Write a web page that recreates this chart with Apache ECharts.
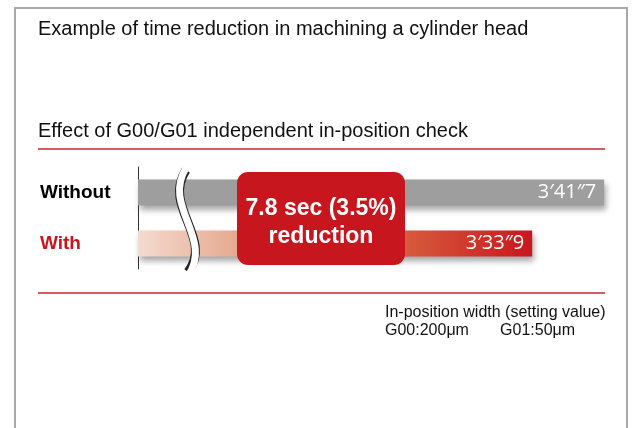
<!DOCTYPE html>
<html>
<head>
<meta charset="utf-8">
<script src="https://cdn.jsdelivr.net/npm/echarts@6/dist/echarts.min.js"></script>
<style>
  html, body { margin: 0; padding: 0; background: #fff; }
  #main { width: 636px; height: 428px; }
</style>
</head>
<body>
<div id="main"></div>
<script>
// data
var categories = ['Without', 'With'];
var timesSec = [221.7, 213.9];           // 3'41"7 and 3'33"9 in seconds
var timeLabels = ['3\u203241\u20337', '3\u203233\u20339'];
var axisMin = 171.2;                      // broken axis, starts well above zero
var axisMax = 222;

var FONT = '"Liberation Sans", Arial, Helvetica, sans-serif';
var RED = '#c8161e';

var diff = timesSec[0] - timesSec[1];
var pct = diff / timesSec[0] * 100;
var boxLine1 = diff.toFixed(1) + ' sec (' + pct.toFixed(1) + '%)';

var myChart = echarts.init(document.getElementById('main'));

var option = {
  animation: false,
  backgroundColor: '#fff',
  grid: { left: 138, top: 167, height: 102, right: 636 - 138 - (axisMax - axisMin) * (72 / 7.8) },
  xAxis: {
    type: 'value',
    min: axisMin,
    max: axisMax,
    show: false
  },
  yAxis: {
    type: 'category',
    data: categories,
    inverse: true,
    axisLine: { show: true, lineStyle: { color: '#333', width: 1 } },
    axisTick: { show: false },
    axisLabel: {
      align: 'left',
      margin: 98,
      fontFamily: FONT,
      fontSize: 19,
      fontWeight: 'bold',
      padding: [14, 0, 0, 0],
      color: function (v) { return v === 'With' ? RED : '#000'; }
    }
  },
  series: [{
    type: 'bar',
    barWidth: 26,
    data: [
      { value: timesSec[0], itemStyle: { color: '#9d9e9d' } },
      { value: timesSec[1], itemStyle: { color: new echarts.graphic.LinearGradient(0, 0, 1, 0, [
        { offset: 0, color: '#f4dbd0' },
        { offset: 0.25, color: '#e6a98f' },
        { offset: 0.68, color: '#d65b3c' },
        { offset: 1, color: '#c8161e' }
      ]) } }
    ],
    itemStyle: {
      shadowColor: 'rgba(0,0,0,0.35)',
      shadowBlur: 6,
      shadowOffsetX: 2,
      shadowOffsetY: 4
    },
    label: {
      show: true,
      position: 'insideRight',
      distance: 8,
      color: '#fff',
      fontFamily: '"Open Sans", sans-serif',
      fontSize: 20,
      formatter: function (p) { return timeLabels[p.dataIndex]; }
    }
  }],
  graphic: [
    // frame
    { type: 'polyline', z: 1, shape: { points: [[15, 430], [15, 8], [627, 8], [627, 430]] },
      style: { stroke: '#aaa', lineWidth: 2, fill: null } },
    { type: 'text', left: 38, top: 19,
      style: { text: 'Example of time reduction in machining a cylinder head', font: '20px ' + FONT, fill: '#111' } },
    { type: 'text', left: 38, top: 121,
      style: { text: 'Effect of G00/G01 independent in-position check', font: '20px ' + FONT, fill: '#111' } },
    { type: 'line', shape: { x1: 38, y1: 149, x2: 605, y2: 149 }, style: { stroke: '#c9252b', lineWidth: 1.5 } },
    { type: 'line', shape: { x1: 38, y1: 293, x2: 605, y2: 293 }, style: { stroke: '#c9252b', lineWidth: 1.5 } },
    // axis break
    { type: 'bezierCurve', z: 50,
      shape: { x1: 186, y1: 170, cpx1: 162, cpy1: 207, cpx2: 214, cpy2: 238, x2: 188, y2: 272 },
      style: { stroke: '#222', lineWidth: 9, fill: null } },
    { type: 'bezierCurve', z: 51,
      shape: { x1: 186, y1: 168, cpx1: 162, cpy1: 207, cpx2: 214, cpy2: 238, x2: 188, y2: 276 },
      style: { stroke: '#fff', lineWidth: 7, fill: null } },
    // reduction box
    { type: 'rect', z: 60, shape: { x: 237, y: 172, width: 168, height: 93, r: 11 },
      style: { fill: RED } },
    { type: 'text', z: 61, x: 321, y: 209,
      style: { text: boxLine1, font: 'bold 23px ' + FONT, fill: '#fff', align: 'center', verticalAlign: 'middle' } },
    { type: 'text', z: 61, x: 321, y: 237,
      style: { text: 'reduction', font: 'bold 23px ' + FONT, fill: '#fff', align: 'center', verticalAlign: 'middle' } },
    // note
    { type: 'text', left: 385, top: 305,
      style: { text: 'In-position width (setting value)', font: '16px ' + FONT, fill: '#111' } },
    { type: 'text', left: 385, top: 323,
      style: { text: 'G00:200\u03bcm       G01:50\u03bcm', font: '16px ' + FONT, fill: '#111' } }
  ]
};

myChart.setOption(option);
</script>
</body>
</html>
